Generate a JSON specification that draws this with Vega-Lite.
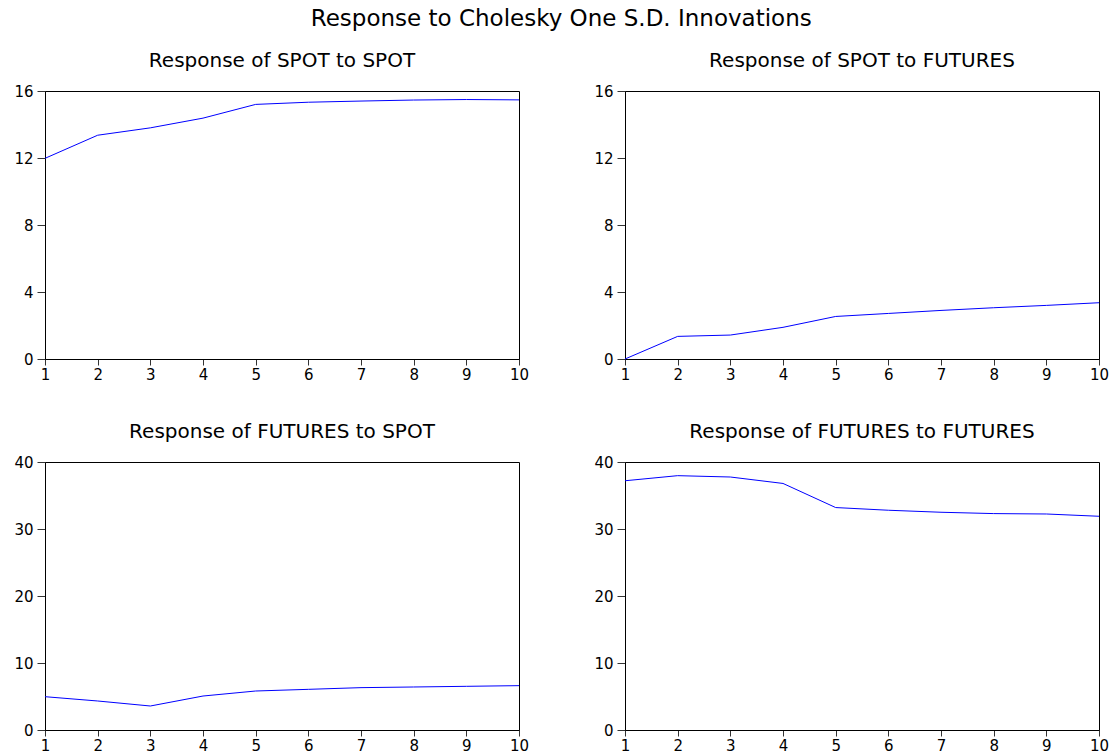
{
  "$schema": "https://vega.github.io/schema/vega-lite/v6.json",
  "background": "white",
  "padding": {"left": 13, "top": 7, "right": 10, "bottom": 5},
  "title": {"text": "Response to Cholesky One S.D. Innovations", "font": "DejaVu Sans", "fontSize": 23, "fontWeight": "normal", "color": "black", "anchor": "middle", "offset": 20},
  "datasets": {
    "irf": [
      {"panel": "SPOT to SPOT", "period": 1, "value": 11.98},
      {"panel": "SPOT to SPOT", "period": 2, "value": 13.36},
      {"panel": "SPOT to SPOT", "period": 3, "value": 13.80},
      {"panel": "SPOT to SPOT", "period": 4, "value": 14.38},
      {"panel": "SPOT to SPOT", "period": 5, "value": 15.20},
      {"panel": "SPOT to SPOT", "period": 6, "value": 15.33},
      {"panel": "SPOT to SPOT", "period": 7, "value": 15.40},
      {"panel": "SPOT to SPOT", "period": 8, "value": 15.46},
      {"panel": "SPOT to SPOT", "period": 9, "value": 15.49},
      {"panel": "SPOT to SPOT", "period": 10, "value": 15.47},
      {"panel": "SPOT to FUTURES", "period": 1, "value": 0.0},
      {"panel": "SPOT to FUTURES", "period": 2, "value": 1.35},
      {"panel": "SPOT to FUTURES", "period": 3, "value": 1.43},
      {"panel": "SPOT to FUTURES", "period": 4, "value": 1.89},
      {"panel": "SPOT to FUTURES", "period": 5, "value": 2.54},
      {"panel": "SPOT to FUTURES", "period": 6, "value": 2.72},
      {"panel": "SPOT to FUTURES", "period": 7, "value": 2.90},
      {"panel": "SPOT to FUTURES", "period": 8, "value": 3.06},
      {"panel": "SPOT to FUTURES", "period": 9, "value": 3.20},
      {"panel": "SPOT to FUTURES", "period": 10, "value": 3.36},
      {"panel": "FUTURES to SPOT", "period": 1, "value": 4.97},
      {"panel": "FUTURES to SPOT", "period": 2, "value": 4.33},
      {"panel": "FUTURES to SPOT", "period": 3, "value": 3.58},
      {"panel": "FUTURES to SPOT", "period": 4, "value": 5.07},
      {"panel": "FUTURES to SPOT", "period": 5, "value": 5.82},
      {"panel": "FUTURES to SPOT", "period": 6, "value": 6.07},
      {"panel": "FUTURES to SPOT", "period": 7, "value": 6.32},
      {"panel": "FUTURES to SPOT", "period": 8, "value": 6.42},
      {"panel": "FUTURES to SPOT", "period": 9, "value": 6.52},
      {"panel": "FUTURES to SPOT", "period": 10, "value": 6.62},
      {"panel": "FUTURES to FUTURES", "period": 1, "value": 37.2},
      {"panel": "FUTURES to FUTURES", "period": 2, "value": 37.96},
      {"panel": "FUTURES to FUTURES", "period": 3, "value": 37.76},
      {"panel": "FUTURES to FUTURES", "period": 4, "value": 36.8},
      {"panel": "FUTURES to FUTURES", "period": 5, "value": 33.2},
      {"panel": "FUTURES to FUTURES", "period": 6, "value": 32.8},
      {"panel": "FUTURES to FUTURES", "period": 7, "value": 32.5},
      {"panel": "FUTURES to FUTURES", "period": 8, "value": 32.3},
      {"panel": "FUTURES to FUTURES", "period": 9, "value": 32.24},
      {"panel": "FUTURES to FUTURES", "period": 10, "value": 31.9}
    ]
  },
  "data": {"name": "irf"},
  "columns": 2,
  "spacing": {"row": 103, "column": 106},
  "bounds": "flush",
  "concat": [
    {
      "title": "Response of SPOT to SPOT",
      "width": 474, "height": 268,
      "transform": [{"filter": "datum.panel === 'SPOT to SPOT'"}],
      "mark": {"type": "line", "color": "#0000ff", "strokeWidth": 1},
      "encoding": {
        "x": {"field": "period", "type": "quantitative", "scale": {"domain": [1, 10], "nice": false, "zero": false}, "axis": {"values": [1,2,3,4,5,6,7,8,9,10], "title": null}},
        "y": {"field": "value", "type": "quantitative", "scale": {"domain": [0, 16], "nice": false}, "axis": {"values": [0,4,8,12,16], "title": null}}
      }
    },
    {
      "title": "Response of SPOT to FUTURES",
      "width": 474, "height": 268,
      "transform": [{"filter": "datum.panel === 'SPOT to FUTURES'"}],
      "mark": {"type": "line", "color": "#0000ff", "strokeWidth": 1},
      "encoding": {
        "x": {"field": "period", "type": "quantitative", "scale": {"domain": [1, 10], "nice": false, "zero": false}, "axis": {"values": [1,2,3,4,5,6,7,8,9,10], "title": null}},
        "y": {"field": "value", "type": "quantitative", "scale": {"domain": [0, 16], "nice": false}, "axis": {"values": [0,4,8,12,16], "title": null}}
      }
    },
    {
      "title": "Response of FUTURES to SPOT",
      "width": 474, "height": 268,
      "transform": [{"filter": "datum.panel === 'FUTURES to SPOT'"}],
      "mark": {"type": "line", "color": "#0000ff", "strokeWidth": 1},
      "encoding": {
        "x": {"field": "period", "type": "quantitative", "scale": {"domain": [1, 10], "nice": false, "zero": false}, "axis": {"values": [1,2,3,4,5,6,7,8,9,10], "title": null}},
        "y": {"field": "value", "type": "quantitative", "scale": {"domain": [0, 40], "nice": false}, "axis": {"values": [0,10,20,30,40], "title": null}}
      }
    },
    {
      "title": "Response of FUTURES to FUTURES",
      "width": 474, "height": 268,
      "transform": [{"filter": "datum.panel === 'FUTURES to FUTURES'"}],
      "mark": {"type": "line", "color": "#0000ff", "strokeWidth": 1},
      "encoding": {
        "x": {"field": "period", "type": "quantitative", "scale": {"domain": [1, 10], "nice": false, "zero": false}, "axis": {"values": [1,2,3,4,5,6,7,8,9,10], "title": null}},
        "y": {"field": "value", "type": "quantitative", "scale": {"domain": [0, 40], "nice": false}, "axis": {"values": [0,10,20,30,40], "title": null}}
      }
    }
  ],
  "config": {
    "view": {"stroke": "black", "strokeWidth": 1},
    "title": {"font": "DejaVu Sans", "fontSize": 20, "fontWeight": "normal", "color": "black", "offset": 13, "anchor": "middle"},
    "axis": {"grid": false, "domainColor": "black", "tickColor": "#333333", "labelColor": "black", "labelFont": "DejaVu Sans", "labelFontSize": 15, "labelFlush": false, "labelOverlap": false},
    "axisX": {"tickSize": 6, "labelPadding": 2},
    "axisY": {"tickSize": 8, "labelPadding": 4}
  }
}
